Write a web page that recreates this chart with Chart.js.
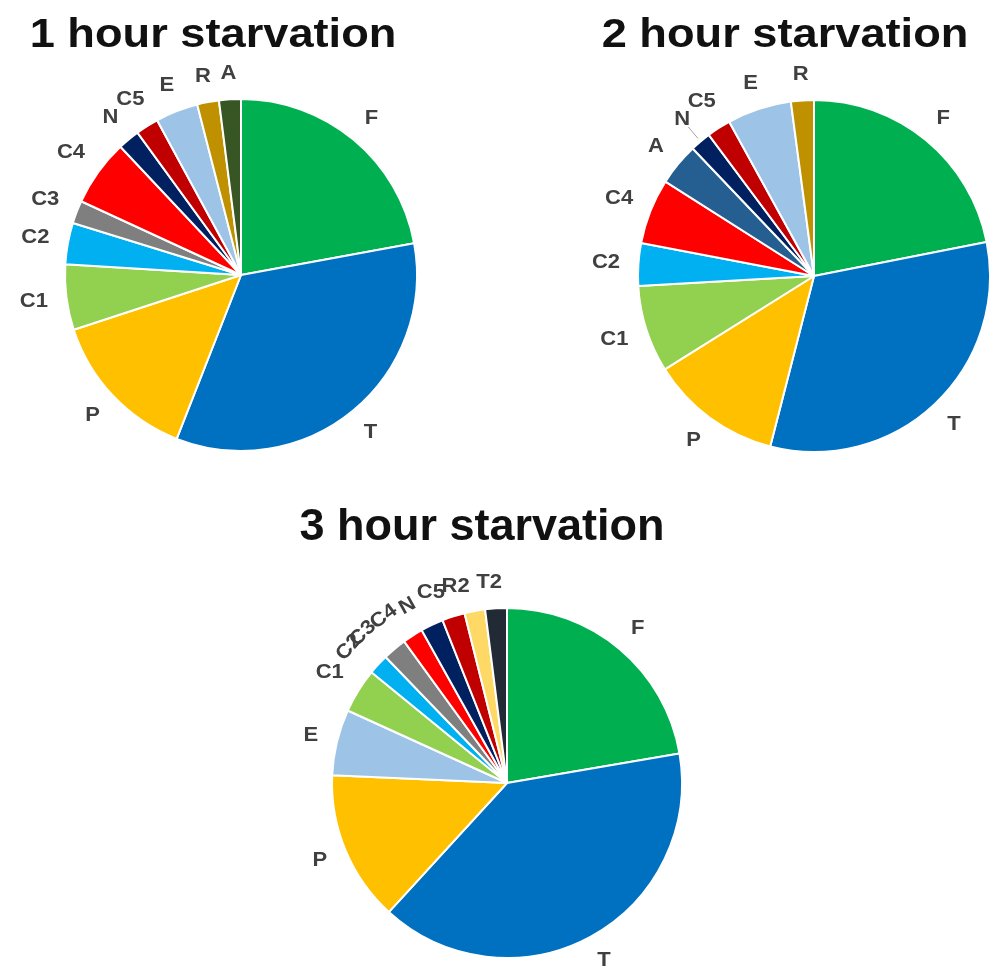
<!DOCTYPE html>
<html>
<head>
<meta charset="utf-8">
<script src="https://cdn.jsdelivr.net/npm/chart.js@4.4.1/dist/chart.umd.min.js"></script>
<style>
  html, body { margin: 0; padding: 0; background: #ffffff; }
  body { width: 993px; height: 975px; position: relative; overflow: hidden; }
  canvas { position: absolute; }
</style>
</head>
<body>
<canvas id="pie1h" width="490" height="500" style="left:0px;top:0px"></canvas>
<canvas id="pie2h" width="493" height="500" style="left:500px;top:0px"></canvas>
<canvas id="pie3h" width="500" height="485" style="left:250px;top:490px"></canvas>
<script>
// ---- data (percent of total per category) ----
const titles = ['1 hour starvation', '2 hour starvation', '3 hour starvation'];

const labels1h = ['F', 'T', 'P', 'C1', 'C2', 'C3', 'C4', 'N', 'C5', 'E', 'R', 'A'];
const values1h = [22.1, 33.8, 14.0, 6.0, 3.8, 2.1, 6.1, 2.0, 2.1, 3.9, 2.0, 2.0];

const labels2h = ['F', 'T', 'P', 'C1', 'C2', 'C4', 'A', 'N', 'C5', 'E', 'R'];
const values2h = [21.9, 32.1, 12.1, 8.0, 3.9, 6.0, 3.9, 1.9, 2.2, 5.9, 2.1];

const labels3h = ['F', 'T', 'P', 'E', 'C1', 'C2', 'C3', 'C4', 'N', 'C5', 'R2', 'T2'];
const values3h = [22.3, 39.5, 13.9, 6.1, 4.1, 1.9, 2.2, 1.9, 2.1, 2.1, 1.9, 2.0];

// ---- colours per category ----
const palette = {
  F: '#00B050', T: '#0070C0', P: '#FFC000', C1: '#92D050', C2: '#00B0F0',
  C3: '#7F7F7F', C4: '#FF0000', N: '#002060', C5: '#C00000', E: '#9DC3E6',
  R: '#BF9000', A: '#375623', R2: '#FFD966', T2: '#222A35'
};
const colorsFor = (labels, override) => labels.map(l => (override && override[l]) || palette[l]);

// Bold title above each pie (optionally widened horizontally)
const wideTitle = {
  id: 'wideTitle',
  afterDraw(chart, args, opts) {
    const ctx = chart.ctx;
    ctx.save();
    ctx.font = 'bold ' + opts.size + 'px "Liberation Sans", Arial, sans-serif';
    ctx.fillStyle = '#111111';
    ctx.textAlign = 'center';
    ctx.textBaseline = 'alphabetic';
    ctx.translate(opts.x, opts.y);
    ctx.scale(opts.stretch, 1);
    ctx.fillText(opts.text, 0, 0);
    ctx.restore();
  }
};

// Category names placed just outside each slice
const sliceLabels = {
  id: 'sliceLabels',
  afterDatasetsDraw(chart, args, opts) {
    const ctx = chart.ctx;
    const meta = chart.getDatasetMeta(0);
    const names = chart.data.labels;
    const rotateSet = opts.rotate || [];
    const leaderSet = opts.leader || [];
    const nudge = opts.nudge || {};
    const sx = 1.1, halfH = 7, gap = 18;
    ctx.save();
    ctx.font = 'bold 20px "Liberation Sans", Arial, sans-serif';
    ctx.textAlign = 'center';
    ctx.textBaseline = 'middle';
    meta.data.forEach((arc, i) => {
      const p = arc.getProps(['x', 'y', 'startAngle', 'endAngle', 'outerRadius'], true);
      const name = names[i];
      const mid = (p.startAngle + p.endAngle) / 2;
      const a = mid + (nudge[name] || 0) * Math.PI / 180;
      const w = ctx.measureText(name).width * sx;
      const ext = Math.abs(Math.cos(a)) * w / 2 + Math.abs(Math.sin(a)) * halfH;
      const d = p.outerRadius + gap + ext;
      if (leaderSet.includes(name)) {
        ctx.strokeStyle = '#A6A6A6';
        ctx.lineWidth = 1;
        ctx.beginPath();
        ctx.moveTo(p.x + (p.outerRadius + 4) * Math.cos(mid), p.y + (p.outerRadius + 4) * Math.sin(mid));
        ctx.lineTo(p.x + (p.outerRadius + 19) * Math.cos(mid), p.y + (p.outerRadius + 19) * Math.sin(mid));
        ctx.stroke();
      }
      ctx.save();
      ctx.translate(p.x + d * Math.cos(a), p.y + d * Math.sin(a));
      if (rotateSet.includes(name)) ctx.rotate(a + Math.PI / 2);
      ctx.scale(sx, 1);
      ctx.fillStyle = '#404040';
      ctx.fillText(name, 0, 0);
      ctx.restore();
    });
    ctx.restore();
  }
};

function makePie(id, labels, values, colors, radius, padding, title, labelOpts) {
  return new Chart(document.getElementById(id), {
    type: 'pie',
    data: {
      labels: labels,
      datasets: [{
        data: values,
        backgroundColor: colors,
        borderColor: '#ffffff',
        borderWidth: 2,
        radius: radius
      }]
    },
    options: {
      responsive: false,
      animation: false,
      devicePixelRatio: 1,
      radius: radius,
      layout: { padding: padding },
      plugins: {
        legend: { display: false },
        tooltip: { enabled: false },
        wideTitle: title,
        sliceLabels: labelOpts
      }
    },
    plugins: [wideTitle, sliceLabels]
  });
}

makePie('pie1h', labels1h, values1h, colorsFor(labels1h), 176,
  { left: 65, top: 99, right: 73, bottom: 49 },
  { text: titles[0], x: 213, y: 47, size: 40, stretch: 1.13 }, {});

makePie('pie2h', labels2h, values2h, colorsFor(labels2h, { A: '#255E91' }), 176,
  { left: 138, top: 100, right: 3, bottom: 48 },
  { text: titles[1], x: 285, y: 47, size: 40, stretch: 1.13 }, { leader: ['N'] });

makePie('pie3h', labels3h, values3h, colorsFor(labels3h), 175,
  { left: 82, top: 118, right: 68, bottom: 17 },
  { text: titles[2], x: 232, y: 50, size: 45, stretch: 1.0 },
  {
    rotate: ['C2', 'C3', 'C4', 'N'],
    nudge: { C2: -2, C3: -4, C4: -4, N: -4, C5: -4, R2: -4, T2: -1.5 }
  });
</script>
</body>
</html>
